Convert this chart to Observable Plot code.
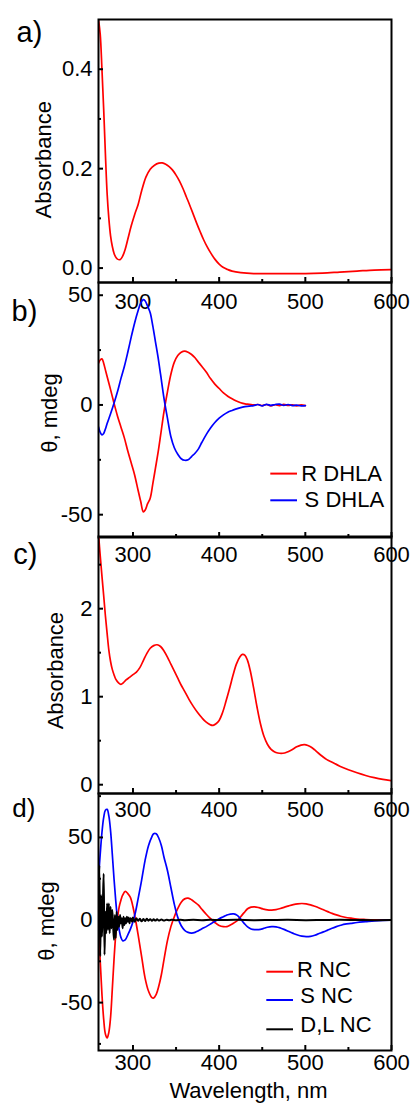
<!DOCTYPE html>
<html>
<head>
<meta charset="utf-8">
<script src="https://cdn.jsdelivr.net/npm/d3@7"></script>
<script src="https://cdn.jsdelivr.net/npm/@observablehq/plot@0.6"></script>
<style>
  html, body { margin: 0; padding: 0; background: #fff; }
  #wrap { position: relative; width: 413px; height: 1104px; overflow: hidden; background: #fff; }
  #wrap svg { position: absolute; left: 0; overflow: visible; background: transparent; }
</style>
</head>
<body>
<div id="wrap"></div>
<script>
// ---------- data ----------
const xTicks = [300, 400, 500, 600];
const xMinorTicks = [350, 450, 550];

// a) absorbance of DHLA
const aWavelength = [260,262,264,266,268,270,272,274,276,278,280,282,285,288,291,294,298,302,306,310,315,320,325,330,334,338,342,346,350,354,358,362,366,370,374,378,382,386,390,395,400,405,410,415,425,440,460,480,500,520,540,560,580,600];
const aAbsorbance = [0.50,0.47,0.40,0.32,0.23,0.15,0.10,0.065,0.044,0.030,0.022,0.018,0.017,0.024,0.038,0.058,0.085,0.108,0.128,0.155,0.183,0.199,0.207,0.211,0.2115,0.209,0.204,0.197,0.187,0.175,0.160,0.143,0.126,0.108,0.090,0.073,0.057,0.043,0.031,0.018,0.008,0.001,-0.003,-0.006,-0.009,-0.011,-0.011,-0.011,-0.011,-0.010,-0.008,-0.006,-0.004,-0.003];
const aYTicks = [0.0, 0.2, 0.4];
const aYMinor = [0.1, 0.3];

// b) CD of R / S DHLA
const bWavelength = [260,262,264,266,268,270,274,278,282,286,290,294,298,302,306,309,312,314,317,320,323,326,329,332,336,340,344,348,352,356,360,364,368,372,376,380,385,390,395,400,405,410,415,420,425,430,435,440,445,450,455,460,465,470,475,480,485,490,495,500];
const bR = [19,20.5,21,19,16,13,7,0.8,-5,-10,-15,-21,-26.5,-32,-39,-44,-48.7,-48,-45,-42.5,-36,-29,-22,-14,-3,6,14,19.5,22.5,24,24.5,24,23,21.5,19.5,17.5,15,12,9.5,7.5,5.5,4,2.8,1.8,1,0.5,0.3,0,0.2,-0.3,0.2,-0.4,0.1,-0.3,0.3,-0.2,0,-0.4,0,-0.3];
const bS = [-10,-12.5,-13.6,-13,-11,-8.5,-4,0.8,6,12,17.5,24,31,37.5,43,46.5,48,47.5,45,42,36,29,22,14,3,-6,-14.5,-19.5,-22.5,-24.5,-25.2,-25,-23.5,-22,-20,-17,-13.5,-10.5,-8,-6,-4.5,-3.3,-2.5,-1.8,-1.2,-0.8,-0.5,-0.3,0.2,-0.4,0.3,-0.2,0.2,0.4,-0.2,0.2,-0.3,-0.1,-0.4,-0.3];
const bYTicks = [-50, 0, 50];
const bYMinor = [-25, 25];
const bNames = ["R DHLA", "S DHLA"];

// c) absorbance of NC
const cWavelength = [260,262,264,266,268,270,272,274,276,278,280,283,286,289,292,296,300,304,308,312,316,320,324,328,332,336,340,344,348,352,356,360,365,370,375,380,385,390,393,396,400,404,408,412,416,420,424,427,430,433,436,440,444,448,452,456,460,464,468,472,476,480,485,490,495,499,503,507,511,515,520,525,530,540,550,560,570,580,590,600];
const cAbsorbance = [2.85,2.6,2.37,2.15,1.92,1.72,1.53,1.4,1.31,1.25,1.2,1.16,1.14,1.16,1.19,1.22,1.25,1.28,1.33,1.41,1.49,1.55,1.58,1.59,1.57,1.52,1.45,1.37,1.29,1.21,1.13,1.06,0.97,0.89,0.82,0.76,0.71,0.68,0.675,0.69,0.73,0.82,0.95,1.09,1.24,1.37,1.45,1.48,1.47,1.41,1.3,1.1,0.88,0.69,0.55,0.46,0.405,0.375,0.36,0.355,0.36,0.375,0.4,0.43,0.45,0.455,0.445,0.425,0.395,0.36,0.32,0.285,0.26,0.21,0.17,0.135,0.105,0.08,0.06,0.045];
const cYTicks = [0, 1, 2];
const cYMinor = [0.5, 1.5, 2.5];

// d) CD of R / S / D,L NC
const dWavelength = [260,262,264,266,268,270,272,274,276,278,280,282,284,286,288,291,294,297,300,303,306,310,314,318,322,324,327,330,333,336,340,344,348,352,356,360,364,368,372,376,380,385,390,395,400,405,409,413,417,421,425,429,433,437,441,446,451,456,461,466,471,476,481,486,491,496,501,506,511,516,521,526,531,536,541,546,553,560,570,580,590,600];
const dR = [0,-25,-45,-60,-69,-71.4,-68,-59,-42,-24,-9,1,8,12,15,17.3,16,13.7,8,0,-9,-22,-35,-43,-47,-47.2,-45,-40,-33,-24,-12.5,-4,2,7,10.8,12.8,13.2,12.3,10.7,9,6.5,3.5,0.8,-1.5,-3.3,-4,-4,-3,-1.8,-0.3,2,4.5,6.8,7.8,8,7.5,6.7,6.1,6,6.3,7,7.8,8.6,9.3,9.8,10,9.8,9.2,8.3,7.3,6.2,5.1,4,3.1,2.3,1.7,1.1,0.6,0.3,0.1,0.05,0];
const dS = [25,40,53,62,66.5,67,63,54,40,25,11.7,1,-6,-10.5,-12.5,-12,-9,-5.5,-1,5,13,24,36,45,50.5,52.3,52.2,49.5,45,38,30,19.7,9.5,1.6,-3.5,-6.2,-7.5,-7.9,-7.5,-6.5,-5.3,-4,-2.4,-0.8,0.8,2,3,3.6,3.7,2.8,0.6,-2,-4.2,-5.4,-5.8,-5.8,-5.2,-4.4,-4,-4.1,-4.8,-5.8,-7,-8.1,-9.1,-9.8,-10.1,-9.9,-9.2,-8.2,-7.2,-6.1,-5,-4,-3.2,-2.5,-2,-1.5,-1,-0.5,-0.2,-0.1,0];
const dDLWavelength = [260,261,262,263,264,265,266,267,268,269,270,271,272,273,274,275,276,277,278,279,280,281,282,283,284,285,286,287,288,289,290,291,292,293,294,295,296,297,298,299,300,302,304,306,308,310,312,314,316,318,320,322,324,326,328,330,333,336,339,342,345,350,355,360,370,380,390,400,420,440,460,480,500,520,540,560,580,600];
const dDL = [5,33,-22,15,-10,8,28,-21,5,-8,10,-6,10,-8,8,-5,6,-4,-12,3,-11,5,-6,2,-4,3,-2,1,-5,2,-3,1,-2,2,-1,1.5,-2,1,0.5,-1,1.5,-1,1,-0.5,0.8,-0.8,0.6,-0.6,0.7,-0.4,0.5,-0.5,0.4,-0.3,0.4,-0.3,0.3,-0.3,0.2,-0.2,0.2,-0.1,0.1,-0.1,0.1,-0.1,0.1,0,0.1,-0.1,0,0.1,-0.1,0,0.1,0,-0.1,0];
const dYTicks = [-50, 0, 50];
const dYMinor = [-75, -25, 25, 75];
const dNames = ["R NC", "S NC", "D,L NC"];

const RED = "#ff0000", BLUE = "#0000ff", BLACK = "#000000";
const FONT = '"Liberation Sans", Arial, Helvetica, sans-serif';

function rows(xs, ys) { return xs.map((x, i) => ({x, y: ys[i]})); }

function panel(cfg) {
  const W = 413, mL = 98, mR = 22, mT = 20;
  const mB = cfg.marginBottom;
  const H = mT + (cfg.frameBottom - cfg.frameTop) + mB;
  const marks = [];
  cfg.series.forEach(s => {
    marks.push(Plot.line(rows(s.x, s.y), {x: "x", y: "y", stroke: s.color, strokeWidth: s.width || 1.7, curve: "catmull-rom", clip: true}));
  });
  marks.push(
    Plot.axisX(xTicks, {anchor: "bottom", tickSize: -5, tickPadding: cfg.xPad + 5, strokeWidth: 2, tickFormat: d => String(d), label: null, fontSize: 22}),
    Plot.axisX(xMinorTicks, {anchor: "bottom", tickSize: -3, tickFormat: () => "", strokeWidth: 2, label: null}),
    Plot.axisY(cfg.yTicks, {anchor: "left", tickSize: -5, tickPadding: 11, strokeWidth: 2, tickFormat: cfg.yFormat, label: null, fontSize: 22}),
    Plot.axisY(cfg.yMinor, {anchor: "left", tickSize: -3, tickFormat: () => "", strokeWidth: 2, label: null}),
    Plot.frame({stroke: "black", strokeWidth: 2}),
    Plot.text([cfg.yLabel], {frameAnchor: "left", text: d => d, rotate: -90, textAnchor: "middle", lineAnchor: "bottom", dx: cfg.yLabelDx, dy: cfg.yLabelDy, fontSize: 22, fill: "black"}),
    Plot.text([cfg.tag], {frameAnchor: "top-left", text: d => d, textAnchor: "start", lineAnchor: "bottom", dx: cfg.tagDx, dy: cfg.tagDy, fontSize: cfg.tagSize, fill: "black"})
  );
  if (cfg.xLabel) {
    marks.push(Plot.text([cfg.xLabel], {frameAnchor: "bottom", text: d => d, textAnchor: "middle", lineAnchor: "bottom", dx: 3.5, dy: cfg.xLabelDy, fontSize: 22, fill: "black"}));
  }
  const svg = Plot.plot({
    width: W, height: H,
    marginLeft: mL, marginRight: mR, marginTop: mT, marginBottom: mB,
    style: {fontFamily: FONT, fontSize: "22px", color: "black", background: "transparent", overflow: "visible"},
    x: {domain: [260, 600], label: null},
    y: {domain: cfg.yDomain, label: null},
    marks
  });
  svg.style.top = (cfg.frameTop - mT) + "px";
  // legend (line swatches + labels), anchored to the frame's bottom-right corner
  if (cfg.legend) {
    const fr = W - mR, fb = H - mB;
    const g = d3.select(svg).append("g")
      .attr("font-family", FONT).attr("font-size", 22).attr("fill", "black")
      .attr("text-anchor", "start");
    cfg.legend.forEach(it => {
      g.append("line").attr("x1", fr + it.x1).attr("x2", fr + it.x2)
        .attr("y1", fb + it.lineY).attr("y2", fb + it.lineY)
        .attr("stroke", it.color).attr("stroke-width", 2);
      g.append("text").attr("x", fr + it.tx).attr("y", fb + it.textY + 7.9)
        .attr("text-anchor", "start").text(it.label);
    });
  }
  document.getElementById("wrap").appendChild(svg);
}

panel({
  frameTop: 19, frameBottom: 282, marginBottom: 30, xPad: 11,
  yDomain: [-0.029, 0.5], yTicks: aYTicks, yMinor: aYMinor, yFormat: d => d.toFixed(1),
  yLabel: "Absorbance", yLabelDx: -48, yLabelDy: 8.7,
  tag: "a)", tagDx: -82, tagDy: 22.7, tagSize: 29,
  series: [{x: aWavelength, y: aAbsorbance, color: RED}]
});

panel({
  frameTop: 282, frameBottom: 537, marginBottom: 30, xPad: 9,
  yDomain: [-60.4, 55.8], yTicks: bYTicks, yMinor: bYMinor, yFormat: d => String(d),
  yLabel: "θ, mdeg", yLabelDx: -41.5, yLabelDy: 3,
  tag: "b)", tagDx: -87, tagDy: 38, tagSize: 29,
  series: [{x: bWavelength, y: bR, color: RED}, {x: bWavelength, y: bS, color: BLUE}],
  legend: [
    {label: bNames[0], color: RED, x1: -120.7, x2: -94, lineY: -63.4, tx: -89.7, textY: -64},
    {label: bNames[1], color: BLUE, x1: -120.7, x2: -94, lineY: -36.7, tx: -86.4, textY: -38.4}
  ]
});

panel({
  frameTop: 536, frameBottom: 793, marginBottom: 30, xPad: 8,
  yDomain: [-0.1, 2.82], yTicks: cYTicks, yMinor: cYMinor, yFormat: d => String(d),
  yLabel: "Absorbance", yLabelDx: -35.7, yLabelDy: 5.6,
  tag: "c)", tagDx: -85.3, tagDy: 27.3, tagSize: 29,
  series: [{x: cWavelength, y: cAbsorbance, color: RED}]
});

panel({
  frameTop: 793, frameBottom: 1050, marginBottom: 54, xPad: 4,
  yDomain: [-79, 76.6], yTicks: dYTicks, yMinor: dYMinor, yFormat: d => String(d),
  yLabel: "θ, mdeg", yLabelDx: -45, yLabelDy: -1,
  tag: "d)", tagDx: -86.3, tagDy: 23.7, tagSize: 26,
  xLabel: "Wavelength, nm", xLabelDy: 47.7,
  series: [{x: dWavelength, y: dR, color: RED}, {x: dWavelength, y: dS, color: BLUE}, {x: dDLWavelength, y: dDL, color: BLACK, width: 2}],
  legend: [
    {label: dNames[0], color: RED, x1: -124.7, x2: -98, lineY: -78.3, tx: -94, textY: -81.2},
    {label: dNames[1], color: BLUE, x1: -124.7, x2: -98, lineY: -50, tx: -90.7, textY: -54.5},
    {label: dNames[2], color: BLACK, x1: -124.7, x2: -98, lineY: -20.7, tx: -90.7, textY: -26}
  ]
});
</script>
</body>
</html>
